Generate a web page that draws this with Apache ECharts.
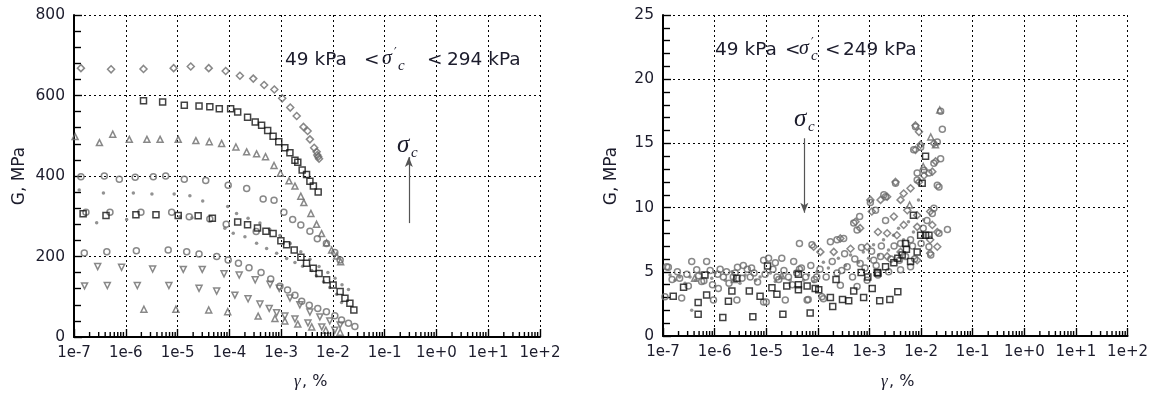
<!DOCTYPE html>
<html>
<head>
<meta charset="utf-8">
<script src="https://cdn.jsdelivr.net/npm/echarts@6/dist/echarts.min.js"></script>
<style>html,body{margin:0;padding:0;background:#fff}#container{width:1151px;height:393px}</style>
</head>
<body>
<div id="container"></div>
<script>
// ---- data: [gamma %, G MPa] ----
var leftDiamond = [[1.36e-7,668],[5.2e-7,665],[2.2e-6,666],[8.4e-6,668],[1.8e-5,672],[4.0e-5,668],[8.5e-5,661],[1.6e-4,649],[2.9e-4,642],[4.7e-4,626],[7.4e-4,615],[1.05e-3,593],[1.5e-3,570],[2.0e-3,549],[2.7e-3,522],[3.25e-3,512],[3.6e-3,491],[4.35e-3,470],[4.85e-3,460],[5.4e-3,443],[5.0e-3,452],[5.2e-3,448]];
var leftSquareHigh = [[2.2e-6,587],[5.15e-6,584],[1.35e-5,576],[2.6e-5,574],[4.2e-5,572],[6.4e-5,567],[1.06e-4,567],[1.45e-4,559],[2.25e-4,546],[3.16e-4,534],[4.2e-4,526],[5.5e-4,513],[7.0e-4,499],[9.0e-4,485],[1.18e-3,470],[1.48e-3,458],[1.85e-3,439],[2.1e-3,434],[2.55e-3,415],[3.1e-3,404],[3.6e-3,387],[4.2e-3,375],[5.2e-3,360]];
var leftTriHigh = [[1.05e-7,498],[3.1e-7,483],[5.6e-7,504],[1.17e-6,491],[2.56e-6,491],[4.6e-6,491],[1.03e-5,491],[2.26e-5,488],[4.1e-5,485],[7.1e-5,481],[1.34e-4,472],[2.16e-4,460],[3.36e-4,455],[5.0e-4,448],[7.3e-4,426],[9.7e-4,407],[1.42e-3,388],[1.85e-3,375],[2.4e-3,350],[2.75e-3,334],[3.76e-3,307],[4.84e-3,280],[6.05e-3,257],[7.55e-3,234],[9.45e-3,216],[1.18e-2,201],[1.41e-2,187]];
var leftCircleHigh = [[1.36e-7,398],[3.85e-7,400],[7.5e-7,392],[1.52e-6,397],[3.4e-6,398],[5.9e-6,400],[1.35e-5,392],[3.5e-5,389],[9.5e-5,377],[2.16e-4,369],[4.5e-4,343],[7.3e-4,340],[1.13e-3,310],[1.67e-3,292],[2.4e-3,278],[3.6e-3,263],[5.0e-3,244],[7.5e-3,232],[1.09e-2,210],[1.38e-2,191]];
var leftDotHigh = [[1.26e-7,365],[3.7e-7,358],[1.4e-6,358],[3.2e-6,355],[8.6e-6,355],[1.73e-5,351],[3.06e-5,338],[9.3e-5,324],[1.38e-4,307],[2.3e-4,295],[3.9e-4,283],[6e-4,268],[9.5e-4,252],[1.5e-3,232],[2.4e-3,212],[3.6e-3,193],[5.4e-3,175],[8e-3,160],[1.1e-2,146],[1.5e-2,130],[2e-2,118]];
var leftSquareLow = [[1.5e-7,306],[4.15e-7,302],[1.57e-6,304],[3.83e-6,304],[1.03e-5,302],[2.5e-5,301],[4.7e-5,295],[1.45e-4,286],[2.25e-4,279],[3.5e-4,271],[5.1e-4,263],[7.0e-4,257],[9.9e-4,239],[1.28e-3,229],[1.79e-3,216],[2.41e-3,198],[3.1e-3,183],[4.17e-3,171],[5.4e-3,158],[7.55e-3,142],[1.01e-2,129],[1.38e-2,113],[1.71e-2,96],[2.13e-2,84],[2.54e-2,67]];
var leftCircleMid = [[1.7e-7,310],[4.95e-7,310],[1.96e-6,310],[7.7e-6,310],[1.68e-5,299],[4.2e-5,293],[8.7e-5,280],[3.3e-4,262]];
var leftDotLow = [[2.74e-7,284],[1.04e-6,292],[1.11e-5,299],[1.9e-5,296],[8.2e-5,270],[1.19e-4,258],[2.0e-4,249],[3.36e-4,233],[5.25e-4,220],[8.2e-4,208],[1.28e-3,195],[1.85e-3,185],[2.6e-3,176],[3.9e-3,165],[4.8e-3,152],[6.6e-3,137],[8.7e-3,123],[1.18e-2,106],[1.47e-2,86]];
var leftCircleLow = [[1.58e-7,209],[4.3e-7,212],[1.6e-6,214],[6.6e-6,216],[1.5e-5,212],[2.6e-5,206],[5.7e-5,200],[9.5e-5,191],[1.5e-4,183],[2.4e-4,172],[4.1e-4,160],[6.3e-4,144],[9.5e-4,126],[1.33e-3,117],[1.85e-3,104],[2.5e-3,89],[3.5e-3,79],[5.1e-3,71],[7.5e-3,63],[1.09e-2,53],[1.47e-2,42],[2.0e-2,34],[2.66e-2,26]];
var leftInvTriHigh = [[2.87e-7,175],[8.3e-7,173],[3.3e-6,169],[1.29e-5,168],[3.0e-5,168],[7.9e-5,157],[1.55e-4,154],[3.16e-4,142],[6.1e-4,131],[9.2e-4,121],[1.48e-3,97],[2.3e-3,80],[3.6e-3,62],[5.6e-3,50],[8.7e-3,40],[1.38e-2,30]];
var leftInvTriLow = [[1.6e-7,127],[4.4e-7,128],[1.67e-6,128],[6.8e-6,128],[2.6e-5,121],[5.7e-5,114],[1.28e-4,104],[2.3e-4,95],[3.9e-4,82],[5.9e-4,71],[8.2e-4,60],[1.18e-3,52],[1.85e-3,45],[3.3e-3,35],[6.1e-3,25],[1.09e-2,17]];
var leftTriLow = [[2.24e-6,69],[9.3e-6,69],[4.0e-5,67],[9.3e-5,63],[3.6e-4,52],[7.6e-4,46],[1.18e-3,40],[2.1e-3,32],[3.9e-3,25],[7.3e-3,17],[1.38e-2,12]];

var rightSquare = [[1.58e-7,3.1],[2.5e-7,3.8],[4.8e-7,2.6],[4.8e-7,1.7],[7.0e-7,3.2],[6.5e-7,4.75],[1.85e-6,2.7],[1.44e-6,1.45],[2.16e-6,3.5],[2.7e-6,4.5],[4.7e-6,3.5],[5.5e-6,1.5],[7.6e-6,3.1],[1.06e-5,5.45],[1.29e-5,3.75],[1.61e-5,3.25],[2.1e-5,1.7],[2.5e-5,3.9],[4.2e-5,4.8],[4.2e-5,4.0],[4.2e-5,3.6],[6.2e-5,3.9],[7.1e-5,1.8],[8.9e-5,3.7],[1.04e-4,3.6],[1.75e-4,3.0],[1.94e-4,2.3],[2.25e-4,4.4],[3.0e-4,2.85],[3.96e-4,2.75],[4.95e-4,3.5],[6.9e-4,4.95],[7.7e-4,3.0],[9.3e-4,4.6],[1.13e-3,3.7],[1.41e-3,4.95],[1.46e-3,4.9],[1.58e-3,2.75],[2.05e-3,5.4],[2.48e-3,2.85],[2.97e-3,5.7],[3.54e-3,6.05],[3.54e-3,3.45],[4.3e-3,6.3],[5.0e-3,7.2],[5.2e-3,6.75],[6.25e-3,5.8],[7.1e-3,9.4],[8.4e-3,6.55],[9.8e-3,7.85],[1.05e-2,11.9],[1.22e-2,7.85],[1.42e-2,7.85],[1.22e-2,14.0]];
var rightCircle = [[1.27e-7,5.35],[1.09e-7,3.05],[2.3e-7,2.95],[3.6e-7,5.8],[4.5e-7,5.15],[5.6e-7,4.25],[7.0e-7,5.8],[9.5e-7,2.8],[1.28e-6,5.2],[2.7e-6,2.8],[2.77e-6,5.35],[4.3e-6,5.2],[1.0e-5,2.65],[1.11e-5,6.05],[1.5e-5,5.7],[2.34e-5,2.8],[3.4e-5,5.8],[4.4e-5,7.2],[6.5e-5,2.85],[7.7e-5,7.1],[4.4e-5,5.2],[1.61e-5,4.6],[4.9e-6,4.6],[1.48e-6,4.6],[1.18e-7,5.4],[2.1e-7,4.5],[1.18e-6,3.7],[2.3e-6,4.6],[5.2e-6,5.3],[8.9e-6,5.9],[8.9e-6,2.65],[2.0e-5,6.05],[1.28e-4,2.9],[1.75e-4,7.35],[2.35e-4,7.5],[3.16e-4,7.6],[4.95e-4,8.8],[5.75e-4,8.25],[6.45e-4,9.3],[1.04e-3,10.4],[1.31e-3,9.8],[1.9e-3,11.0],[2.05e-3,9.0],[6.2e-5,2.8],[1.2e-4,3.05],[9.5e-5,4.6],[2.35e-4,4.9],[3.7e-4,5.4],[6.6e-4,5.65],[1.21e-3,5.9],[1.64e-3,6.2],[2.73e-4,3.95],[5.75e-4,3.85],[9.0e-4,4.35],[1.46e-3,4.75],[2.35e-3,5.0],[4.0e-3,5.15],[6.25e-3,5.4],[4.0e-3,7.2],[6.25e-3,7.5],[2.22e-2,11.6],[1.77e-2,9.95],[1.65e-2,9.55],[3.24e-2,8.3],[2.22e-2,8.0],[1.42e-2,6.95],[1.54e-2,6.3],[2.39e-2,17.5],[7.8e-3,16.3],[2.58e-2,16.1],[2.06e-2,15.1],[9.8e-3,14.7],[7.2e-3,14.5],[2.39e-2,13.8],[1.77e-2,13.45],[1.14e-2,12.9],[8.4e-3,12.7],[1.42e-2,12.7],[2.06e-2,11.75],[8.4e-3,12.15],[3.2e-3,11.9],[2.05e-3,10.85]];
var rightCircleBand = [[1.5e-7,4.4],[1.9e-7,5.0],[2.9e-7,4.8],[3.1e-7,3.9],[4.9e-7,4.7],[6.2e-7,4.3],[8.2e-7,5.1],[9.1e-7,4.0],[1.15e-6,4.8],[1.7e-6,5.0],[1.9e-6,4.1],[2.5e-6,4.9],[3.4e-6,4.5],[3.6e-6,5.5],[5.8e-6,4.9],[6.8e-6,4.2],[9.5e-6,4.8],[1.35e-5,5.2],[1.75e-5,4.4],[2.2e-5,5.1],[2.7e-5,4.6],[3.2e-5,4.0],[3.9e-5,4.9],[4.8e-5,5.3],[5.8e-5,4.6],[7.3e-5,5.5],[8.6e-5,4.4],[1.1e-4,5.2],[1.45e-4,4.6],[1.9e-4,5.8],[2.9e-4,5.1],[3.3e-4,6.4],[4.7e-4,4.6],[5.2e-4,6.0],[7.0e-4,6.9],[8.2e-4,5.3],[1.1e-3,6.6],[1.35e-3,5.5],[1.7e-3,7.0],[2.6e-3,6.0],[3.0e-3,7.0],[3.8e-3,5.9],[5.0e-3,6.2],[6.8e-3,7.0],[7.5e-3,6.0],[1.0e-2,7.2],[1.1e-2,8.4],[1.3e-2,9.0]];
var rightDiamond = [[7.8e-3,16.4],[9.1e-3,15.9],[9.8e-3,14.9],[7.8e-3,14.5],[1.77e-2,15.0],[1.91e-2,13.6],[1.65e-2,12.8],[1.14e-2,12.5],[9.1e-3,12.0],[6.25e-3,11.5],[4.6e-3,11.1],[4.0e-3,10.6],[3.2e-3,12.0],[2.2e-3,10.85],[1.64e-3,10.6],[2.97e-3,9.3],[5.4e-3,9.8],[8.4e-3,9.4],[1.5e-2,9.7],[1.65e-2,8.65],[2.06e-2,8.1],[1.5e-2,7.5],[8.4e-3,8.5],[4.6e-3,8.65],[3.4e-3,7.85],[2.2e-3,8.0],[1.46e-3,8.1],[1.04e-3,10.6],[1.11e-3,9.7],[5.35e-4,8.9],[6.6e-4,8.4],[2.73e-4,7.6],[1.12e-4,6.55],[8.3e-5,6.95],[2.03e-4,6.55],[4.3e-4,6.8],[9.0e-4,6.95],[2.2e-3,6.2],[4.0e-3,6.55],[8.4e-3,5.9],[1.5e-2,6.45],[2.06e-2,6.95]];
var rightTriangle = [[2.3e-2,17.6],[1.54e-2,15.5],[1.9e-2,14.9],[1.1e-2,13.2],[6.0e-3,10.2],[2.0e-5,4.7],[2.4e-6,4.4],[4.1e-7,4.5]];
var rightDot = [[1.37e-7,4.75],[1.71e-7,4.35],[2.1e-7,4.6],[2.67e-7,4.1],[3.34e-7,4.6],[4.2e-7,4.35],[5.2e-7,4.9],[8.8e-7,4.5],[1.02e-6,4.9],[1.6e-6,4.35],[2.16e-6,5.0],[3.1e-6,4.1],[3.9e-6,4.75],[6.2e-6,4.35],[7.6e-6,4.6],[1.2e-5,4.9],[1.5e-5,4.25],[2.0e-5,4.6],[2.9e-5,4.35],[3.6e-5,5.0],[5.3e-5,4.35],[6.6e-5,4.75],[8.3e-5,4.25],[9.6e-5,5.0],[3.6e-7,2.0],[1.28e-4,5.75],[1.6e-4,5.3],[2.5e-4,6.05],[3.42e-4,5.5],[4.3e-4,6.3],[6.1e-4,5.75],[7.6e-4,6.55],[9.6e-4,6.05],[1.2e-3,7.1],[1.5e-3,6.3],[1.87e-3,7.5],[2.34e-3,6.7],[2.92e-3,7.85],[3.66e-3,8.4],[4.57e-3,7.5],[5.7e-3,8.9],[7.1e-3,8.1],[8.9e-3,10.6],[1.12e-2,9.05]];

// arrows showing increasing confining pressure
var leftArrow = [[0.293, 283], [0.293, 447]];
var rightArrow = [[5.47e-5, 15.4], [5.47e-5, 9.6]];

// log-axis minor ticks (2..9 in every decade)
var decadeExponents = [-7, -6, -5, -4, -3, -2, -1, 0, 1];
var minorFactors = [2, 3, 4, 5, 6, 7, 8, 9];

var container = document.getElementById('container');
var chart = echarts.init(container);

var GREY = '#6a6a6a';
var TXT = '#1c1c2c';

var minorTickData = [];
decadeExponents.forEach(function (e) {
    minorFactors.forEach(function (f) {
        minorTickData.push([f * Math.pow(10, e), 0]);
    });
});

function expLabel(v) {
    var e = Math.round(Math.log10(v));
    return '1e' + (e >= 0 ? '+' : '') + e;
}

function xAxisFor(idx) {
    return {
        type: 'log', logBase: 10, gridIndex: idx, min: 1e-7, max: 100, splitNumber: 9,
        axisLine: { show: true, onZero: false, lineStyle: { color: '#000', width: 2 } },
        axisTick: { show: true, inside: true, length: 8, lineStyle: { color: '#000', width: 1.4 } },
        minorTick: { show: false },
        splitLine: { show: true, lineStyle: { color: '#000', width: 1, type: [2, 3] } },
        axisLabel: { formatter: expLabel, fontFamily: 'DejaVu Sans', fontSize: 15, color: TXT, margin: 9 }
    };
}

function yAxisFor(idx, max, step) {
    return {
        type: 'value', gridIndex: idx, min: 0, max: max, interval: step,
        axisLine: { show: true, onZero: false, lineStyle: { color: '#000', width: 2 } },
        axisTick: { show: true, inside: true, length: 8, lineStyle: { color: '#000', width: 1.4 } },
        minorTick: { show: true, splitNumber: 5, length: 7, lineStyle: { color: '#000', width: 1.4 } },
        splitLine: { show: true, lineStyle: { color: '#000', width: 1, type: [2, 3] } },
        axisLabel: { fontFamily: 'DejaVu Sans', fontSize: 15.5, color: TXT, margin: 9 }
    };
}

function hollow(data, idx, symbol, color, size, rotate) {
    return {
        type: 'scatter', xAxisIndex: idx, yAxisIndex: idx, data: data,
        symbol: symbol, symbolSize: size, symbolRotate: rotate || 0, z: 4,
        itemStyle: { color: 'rgba(255,255,255,0)', borderColor: color, borderWidth: 1.5 }
    };
}

function dots(data, idx) {
    return {
        type: 'scatter', xAxisIndex: idx, yAxisIndex: idx, data: data,
        symbol: 'circle', symbolSize: 3.5, z: 4,
        itemStyle: { color: '#777' }
    };
}

function minorTicks(idx) {
    return {
        type: 'custom', coordinateSystem: 'cartesian2d', xAxisIndex: idx, yAxisIndex: idx,
        data: minorTickData, encode: { x: 0, y: 1 },
        silent: true, clip: false, z: 20,
        renderItem: function (params, api) {
            var p = api.coord([api.value(0), api.value(1)]);
            return {
                type: 'line',
                shape: { x1: p[0], y1: p[1], x2: p[0], y2: p[1] - 5 },
                style: { stroke: '#000', lineWidth: 1.4 }
            };
        }
    };
}

function arrow(coords, idx) {
    return {
        type: 'scatter', xAxisIndex: idx, yAxisIndex: idx, data: [], silent: true,
        markLine: {
            silent: true, symbol: ['none', 'arrow'], symbolSize: [6, 10],
            label: { show: false },
            lineStyle: { color: '#555', width: 1.2, type: 'solid' },
            data: [[{ coord: coords[0] }, { coord: coords[1] }]]
        }
    };
}

function txt(x, y, text, font, extra) {
    var s = { text: text, x: x, y: y, font: font, fill: TXT, align: 'left', verticalAlign: 'middle' };
    if (extra) { for (var k in extra) s[k] = extra[k]; }
    return { type: 'text', z: 10, style: s };
}

var SANS = '18.5px "DejaVu Sans"';
var SIG = 'italic 20px "Liberation Serif"';
var SUB = 'italic 15px "Liberation Serif"';
var PRIME = '12px "DejaVu Sans"';

var option = {
    animation: false,
    grid: [
        { left: 74, top: 15, width: 466, height: 322 },
        { left: 663, top: 15, width: 465, height: 321 }
    ],
    xAxis: [xAxisFor(0), xAxisFor(1)],
    yAxis: [yAxisFor(0, 800, 200), yAxisFor(1, 25, 5)],
    series: [
        minorTicks(0), minorTicks(1),
        hollow(leftDiamond, 0, 'diamond', GREY, 7),
        hollow(leftTriHigh, 0, 'triangle', GREY, 6),
        hollow(leftCircleHigh, 0, 'circle', GREY, 6),
        hollow(leftCircleMid, 0, 'circle', GREY, 6),
        hollow(leftCircleLow, 0, 'circle', GREY, 6),
        hollow(leftInvTriHigh, 0, 'triangle', GREY, 6, 180),
        hollow(leftInvTriLow, 0, 'triangle', GREY, 6, 180),
        hollow(leftTriLow, 0, 'triangle', GREY, 6),
        dots(leftDotHigh, 0),
        dots(leftDotLow, 0),
        hollow(leftSquareHigh, 0, 'rect', '#111', 6),
        hollow(leftSquareLow, 0, 'rect', '#111', 6),
        arrow(leftArrow, 0),
        dots(rightDot, 1),
        hollow(rightCircle, 1, 'circle', GREY, 6),
        hollow(rightCircleBand, 1, 'circle', GREY, 6),
        hollow(rightDiamond, 1, 'diamond', GREY, 7),
        hollow(rightTriangle, 1, 'triangle', GREY, 6),
        hollow(rightSquare, 1, 'rect', '#111', 6),
        arrow(rightArrow, 1)
    ],
    graphic: [
        txt(285, 60, '49 kPa', SANS),
        txt(364, 60, '<', SANS),
        txt(382, 59, 'σ', SIG),
        txt(394, 53, '′', PRIME),
        txt(398, 66, 'c', SUB),
        txt(427, 60, '<', SANS),
        txt(447, 60, '294 kPa', SANS),
        txt(397, 145, 'σ', 'italic 25px "Liberation Serif"'),
        txt(411, 153, 'c', 'italic 15px "Liberation Serif"'),
        txt(715, 50, '49 kPa', SANS),
        txt(785, 50, '<', SANS),
        txt(799, 49, 'σ', SIG),
        txt(811, 43, '′', PRIME),
        txt(811, 56, 'c', SUB),
        txt(825, 50, '<', SANS),
        txt(843, 50, '249 kPa', SANS),
        txt(794, 119, 'σ', 'italic 25px "Liberation Serif"'),
        txt(808, 127, 'c', 'italic 15px "Liberation Serif"'),
        { type: 'text', z: 10, x: 20, y: 176, rotation: Math.PI / 2,
          style: { text: 'G, MPa', font: '17px "DejaVu Sans"', fill: TXT, align: 'center', verticalAlign: 'middle' } },
        { type: 'text', z: 10, x: 612, y: 176, rotation: Math.PI / 2,
          style: { text: 'G, MPa', font: '17px "DejaVu Sans"', fill: TXT, align: 'center', verticalAlign: 'middle' } },
        txt(294, 382, 'γ', 'italic 17px "Liberation Serif"'),
        txt(302, 382, ', %', '16px "DejaVu Sans"'),
        txt(881, 382, 'γ', 'italic 17px "Liberation Serif"'),
        txt(889, 382, ', %', '16px "DejaVu Sans"')
    ]
};

chart.setOption(option, true);
</script>
</body>
</html>
